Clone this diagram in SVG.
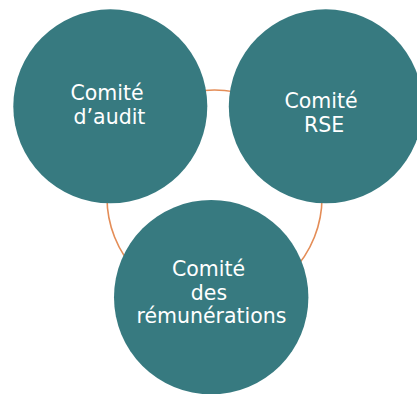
<svg xmlns="http://www.w3.org/2000/svg" width="417" height="394" viewBox="0 0 417 394">
<style>
.node{fill:#377A80}
.lbl{font-family:"DejaVu Sans","Liberation Sans",sans-serif;font-size:20.5px;fill:#FFFFFF;text-anchor:middle}
.ring{fill:none;stroke:#E48D57;stroke-width:1.6}
</style>
<rect width="417" height="394" fill="#FFFFFF"/>
<g id="connectors">
<circle class="ring" cx="214.5" cy="197.5" r="107.5"/>
</g>
<g id="audit">
<circle class="node" cx="110.3" cy="106.3" r="97"/>
<text class="lbl" x="107" y="100">Comité</text>
<text class="lbl" x="109.5" y="124">d’audit</text>
</g>
<g id="rse">
<circle class="node" cx="325.8" cy="106.3" r="97"/>
<text class="lbl" x="321" y="108">Comité</text>
<text class="lbl" x="324" y="132">RSE</text>
</g>
<g id="remunerations">
<circle class="node" cx="211.2" cy="297.2" r="97.2"/>
<text class="lbl" x="208.5" y="276">Comité</text>
<text class="lbl" x="209" y="300">des</text>
<text class="lbl" x="211.5" y="323">rémunérations</text>
</g>
</svg>
